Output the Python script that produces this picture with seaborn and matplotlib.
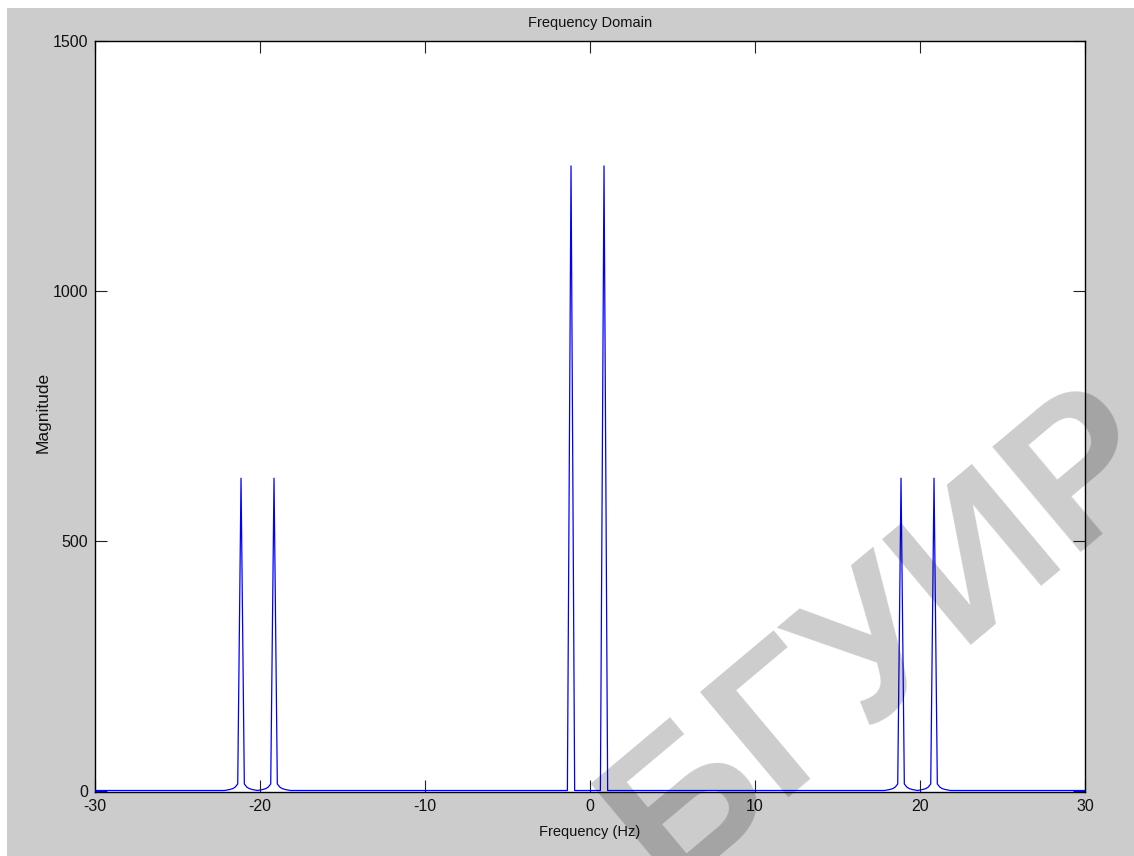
import matplotlib
matplotlib.use("Agg")
import matplotlib.pyplot as plt
from matplotlib.patches import Rectangle
import numpy as np
import pandas as pd
import seaborn as sns

# Spectral lines: centre frequency (Hz) and peak magnitude
peak_freqs = [-21.15, -19.15, -1.15, 0.85, 18.85, 20.85]
peak_heights = [625, 625, 1250, 1250, 625, 625]
peak_leaks = [True, True, False, False, True, True]

# Line shape with spectral leakage: offset from centre (Hz), fraction of the peak
leak_offsets = [-1.0, -0.7, -0.5, -0.35, -0.2, 0.0, 0.2, 0.35, 0.5, 0.7, 1.0]
leak_shape = [0.0, 0.003, 0.006, 0.011, 0.021, 1.0, 0.021, 0.011, 0.006, 0.003, 0.0]

# Clean line shape (falls on a bin)
clean_offsets = [-0.22, 0.0, 0.22]
clean_shape = [0.0, 1.0, 0.0]

freq_range = [-30, 30]
x_ticks = [-30, -20, -10, 0, 10, 20, 30]
y_ticks = [0, 500, 1000, 1500]

# Assemble the magnitude spectrum from the lines above
freqs = [freq_range[0]]
mags = [0.0]
for f0, h, leaks in zip(peak_freqs, peak_heights, peak_leaks):
    offs, shape = (leak_offsets, leak_shape) if leaks else (clean_offsets, clean_shape)
    freqs += [f0 + o for o in offs]
    mags += [h * s for s in shape]
freqs.append(freq_range[1])
mags.append(0.0)
spectrum = pd.DataFrame({"Frequency (Hz)": freqs, "Magnitude": mags})

sns.set_style("ticks")
plt.rcParams["font.family"] = ["Liberation Sans Narrow", "Liberation Sans", "DejaVu Sans"]
plt.rcParams["axes.unicode_minus"] = False

W, H = 1134, 856
fig = plt.figure(figsize=(W / 100, H / 100), dpi=100, facecolor="white")
fig.patches.append(Rectangle((7 / W, 0), 1 - 7 / W, 1 - 8 / H, transform=fig.transFigure,
                             facecolor="#cccccc", edgecolor="none", zorder=-5))

ax = fig.add_axes([95 / W, 64 / H, 990 / W, 751 / H])
ax.set_facecolor("white")

sns.lineplot(data=spectrum, x="Frequency (Hz)", y="Magnitude", sort=False, estimator=None,
             color="#0000ff", linewidth=0.9, ax=ax, zorder=3)

ax.set_xlim(*freq_range)
ax.set_ylim(-3, 1500)
ax.set_xticks(x_ticks)
ax.set_yticks(y_ticks)
ax.tick_params(direction="in", length=8.5, width=0.8, top=True, right=True,
               labelsize=11.5, pad=5, color="#222222", labelcolor="#111111")
for s in ax.spines.values():
    s.set_visible(True)
    s.set_color("black")
    s.set_linewidth(1.0)

ax.set_title("Frequency Domain", fontsize=10.5, pad=10, color="#111111")
ax.set_xlabel("Frequency (Hz)", fontsize=10.5, labelpad=8, color="#111111")
ax.set_ylabel("Magnitude", fontsize=12.5, color="#111111",
              family=["Liberation Sans", "DejaVu Sans"])
ax.yaxis.set_label_coords(-0.0445, 0.505)

# Watermark
fig.text(886 / W, 1 - 638 / H, "БГУИР", rotation=40, rotation_mode="anchor",
         fontsize=144, fontweight="bold", color="black", alpha=0.2,
         ha="center", va="center", family=["Liberation Sans", "DejaVu Sans"], zorder=10)

fig.savefig("out.png", dpi=100, facecolor=fig.get_facecolor())
